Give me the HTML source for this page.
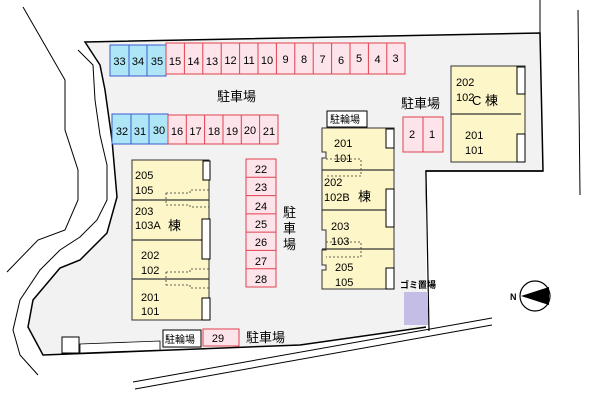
<!DOCTYPE html>
<html><head><meta charset="utf-8"><style>
html,body{margin:0;padding:0;background:#fff;}
svg{display:block;font-family:"Liberation Sans","Noto Sans CJK JP",sans-serif;}
</style></head><body>
<svg width="600" height="400" viewBox="0 0 600 400" xmlns="http://www.w3.org/2000/svg">
<!-- lot -->
<path d="M85,42 L540,33 L543,171 L426,171 L429,330 L490,318 L300,345 L43,355 L28,327 L33,300 L60,268 L80,260 L107,233 L117,197 L112,140 L105,90 L100,65 Z" fill="#f2f2f2" stroke="#000" stroke-width="1.5"/>
<rect x="426" y="172" width="180" height="160" fill="#fff"/>
<path d="M426,171 L543,171" stroke="#000" stroke-width="1.5"/>
<path d="M426,171 L429,331" stroke="#000" stroke-width="1.2"/>
<!-- outer lines -->
<path d="M23,7 L65,80 L65,130 L78,170 L78,200 L65,230 L38,240 L7,272" fill="none" stroke="#000" stroke-width="1"/>
<path d="M78,50 L93,65 L95,100 L100,135 L107,165 L107,200 L97,220 L80,237 L60,250 L40,270 L20,300 L13,330 L20,355 L38,375" fill="none" stroke="#000" stroke-width="1"/>
<path d="M540,0 L540,33 M578,10 L580,195" stroke="#000" stroke-width="1"/>
<!-- road -->
<path d="M133,382 L492,318 M135,389 L492,325" stroke="#000" stroke-width="1"/>
<path d="M80,344 L160,341 L160,350 L80,353 Z" fill="#fff" stroke="#000" stroke-width="0.8"/>
<rect x="62" y="337" width="17" height="16" fill="#fff" stroke="#000"/>
<!-- top row -->
<g font-size="11" text-anchor="middle" fill="#000">
<rect x="110" y="45" width="56" height="31" fill="#aee6f8" stroke="#3a5bd0"/>
<path d="M129,45V76M147,45V76" stroke="#3a5bd0"/>
<text x="119.5" y="65">33</text><text x="138" y="65">34</text><text x="157" y="65">35</text>
<rect x="166" y="43" width="239" height="31" fill="#fde3ea" stroke="#e0404f"/>
<g stroke="#e0404f">
<path d="M184.4,43V74M202.8,43V74M221.2,43V74M239.6,43V74M258,43V74M276.4,43V74M294.8,43V74M313.2,43V74M331.6,43V74M350,43V74M368.4,43V74M386.8,43V74"/>
</g>
<text x="175" y="65">15</text><text x="193.5" y="65">14</text><text x="212" y="65">13</text><text x="230.5" y="64">12</text><text x="249" y="64">11</text><text x="267" y="64">10</text><text x="285.5" y="63">9</text><text x="304" y="63">8</text><text x="322.5" y="63">7</text><text x="341" y="64">6</text><text x="359" y="62">5</text><text x="377.5" y="63">4</text><text x="395.5" y="62">3</text>
<!-- second row -->
<rect x="112" y="114" width="56" height="30" fill="#aee6f8" stroke="#3a5bd0"/>
<path d="M131,114V144M149,114V144" stroke="#3a5bd0"/>
<text x="122" y="135">32</text><text x="140" y="135">31</text><text x="159" y="134">30</text>
<rect x="168" y="115" width="110" height="29" fill="#fde3ea" stroke="#e0404f"/>
<path d="M186.3,115V144M204.6,115V144M223,115V144M241.3,115V144M259.6,115V144" stroke="#e0404f"/>
<text x="177" y="135">16</text><text x="195.5" y="135">17</text><text x="214" y="135">18</text><text x="232" y="135">19</text><text x="250" y="134">20</text><text x="269" y="135">21</text>
<!-- column -->
<rect x="246" y="159" width="30" height="128" fill="#fde3ea" stroke="#e0404f"/>
<path d="M246,177.3H276M246,195.6H276M246,213.9H276M246,232.1H276M246,250.4H276M246,268.7H276" stroke="#e0404f"/>
<text x="261" y="173">22</text><text x="261" y="191">23</text><text x="261" y="210">24</text><text x="261" y="228">25</text><text x="261" y="246">26</text><text x="261" y="265">27</text><text x="261" y="283">28</text>
<!-- 2 1 -->
<rect x="403" y="117" width="40" height="35" fill="#fde3ea" stroke="#e0404f"/>
<path d="M423,117V152" stroke="#e0404f"/>
<text x="412" y="138">2</text><text x="432" y="138">1</text>
<!-- 29 -->
<rect x="203" y="329" width="36" height="17" fill="#fde3ea" stroke="#e0404f"/>
<text x="218" y="342">29</text>
</g>
<!-- labels -->
<g font-size="13" fill="#000">
<text x="217" y="101">駐車場</text>
<text x="401" y="108">駐車場</text>
<text x="246" y="342">駐車場</text>
<text x="283" y="217">駐</text><text x="283" y="233">車</text><text x="283" y="249">場</text>
</g>
<!-- building A -->
<g font-size="11" fill="#000">
<rect x="132" y="160" width="77" height="160" fill="#fdf6c8" stroke="#333"/>
<path d="M132,200H209M132,240H209M132,279H209" stroke="#333" stroke-width="1.3"/>
<rect x="203" y="161" width="7" height="19" fill="#fff" stroke="#000"/>
<rect x="202" y="219" width="8" height="40" fill="#fff" stroke="#000"/>
<rect x="202" y="298" width="8" height="22" fill="#fff" stroke="#000"/>
<path d="M166,193H190V190H209M166,193V205M166,205H190V207H209M166,272H190V269H209M166,272V285M166,285H190V288H209" fill="none" stroke="#333" stroke-dasharray="2,2" stroke-width="0.8"/>
<text x="135" y="179">205</text><text x="135" y="194">105</text>
<text x="135" y="215">203</text><text x="135" y="229">103A</text><text x="168" y="230" font-size="13">棟</text>
<text x="141" y="259">202</text><text x="141" y="274">102</text>
<text x="141" y="301">201</text><text x="141" y="315">101</text>
</g>
<!-- building B -->
<g font-size="11" fill="#000">
<rect x="327" y="111" width="40" height="16" fill="#fff" stroke="#000"/>
<text x="330" y="123" font-size="10">駐輪場</text>
<path d="M322,128H394V289H322V270H326V265H322V250H326V230H322V170H322V158H326V152H322Z" fill="#fdf6c8" stroke="#333"/>
<path d="M322,170H394M322,210H394M322,249H394" stroke="#333" stroke-width="1.2"/>
<rect x="386" y="129" width="8" height="19" fill="#fff" stroke="#000"/>
<rect x="386" y="189" width="8" height="38" fill="#fff" stroke="#000"/>
<rect x="386" y="268" width="8" height="21" fill="#fff" stroke="#000"/>
<path d="M326,159H361V176H326M326,242H361V257H326" fill="none" stroke="#333" stroke-dasharray="2,2" stroke-width="0.8"/>
<text x="334" y="147">201</text><text x="334" y="162">101</text>
<text x="324" y="186">202</text><text x="324" y="201">102B</text><text x="358" y="201" font-size="13">棟</text>
<text x="331" y="230">203</text><text x="331" y="245">103</text>
<text x="335" y="271">205</text><text x="335" y="286">105</text>
</g>
<!-- building C -->
<g font-size="11" fill="#000">
<rect x="451" y="66" width="74" height="96" fill="#fdf6c8" stroke="#333"/>
<path d="M451,114H521" stroke="#333" stroke-width="1.2"/>
<rect x="517" y="67" width="8" height="27" fill="#fff" stroke="#000"/>
<rect x="517" y="134" width="8" height="28" fill="#fff" stroke="#000"/>
<text x="456" y="86">202</text><text x="456" y="101">102</text><text x="472" y="105" font-size="13">C 棟</text>
<text x="465" y="139">201</text><text x="465" y="154">101</text>
</g>
<!-- bottom bicycle -->
<rect x="163" y="330" width="38" height="17" fill="#fff" stroke="#000"/>
<text x="165" y="343" font-size="10">駐輪場</text>
<!-- garbage -->
<rect x="404" y="292" width="24" height="33" fill="#c4bde6"/>
<text x="400" y="288" font-size="9" font-weight="bold">ゴミ置場</text>
<!-- compass -->
<circle cx="535" cy="296" r="15" fill="#fff" stroke="#000" stroke-width="1.2"/>
<path d="M521,296 L549,287 L549,305 Z" fill="#000"/>
<text x="510" y="300" font-size="9" font-weight="bold">N</text>
</svg>
</body></html>
